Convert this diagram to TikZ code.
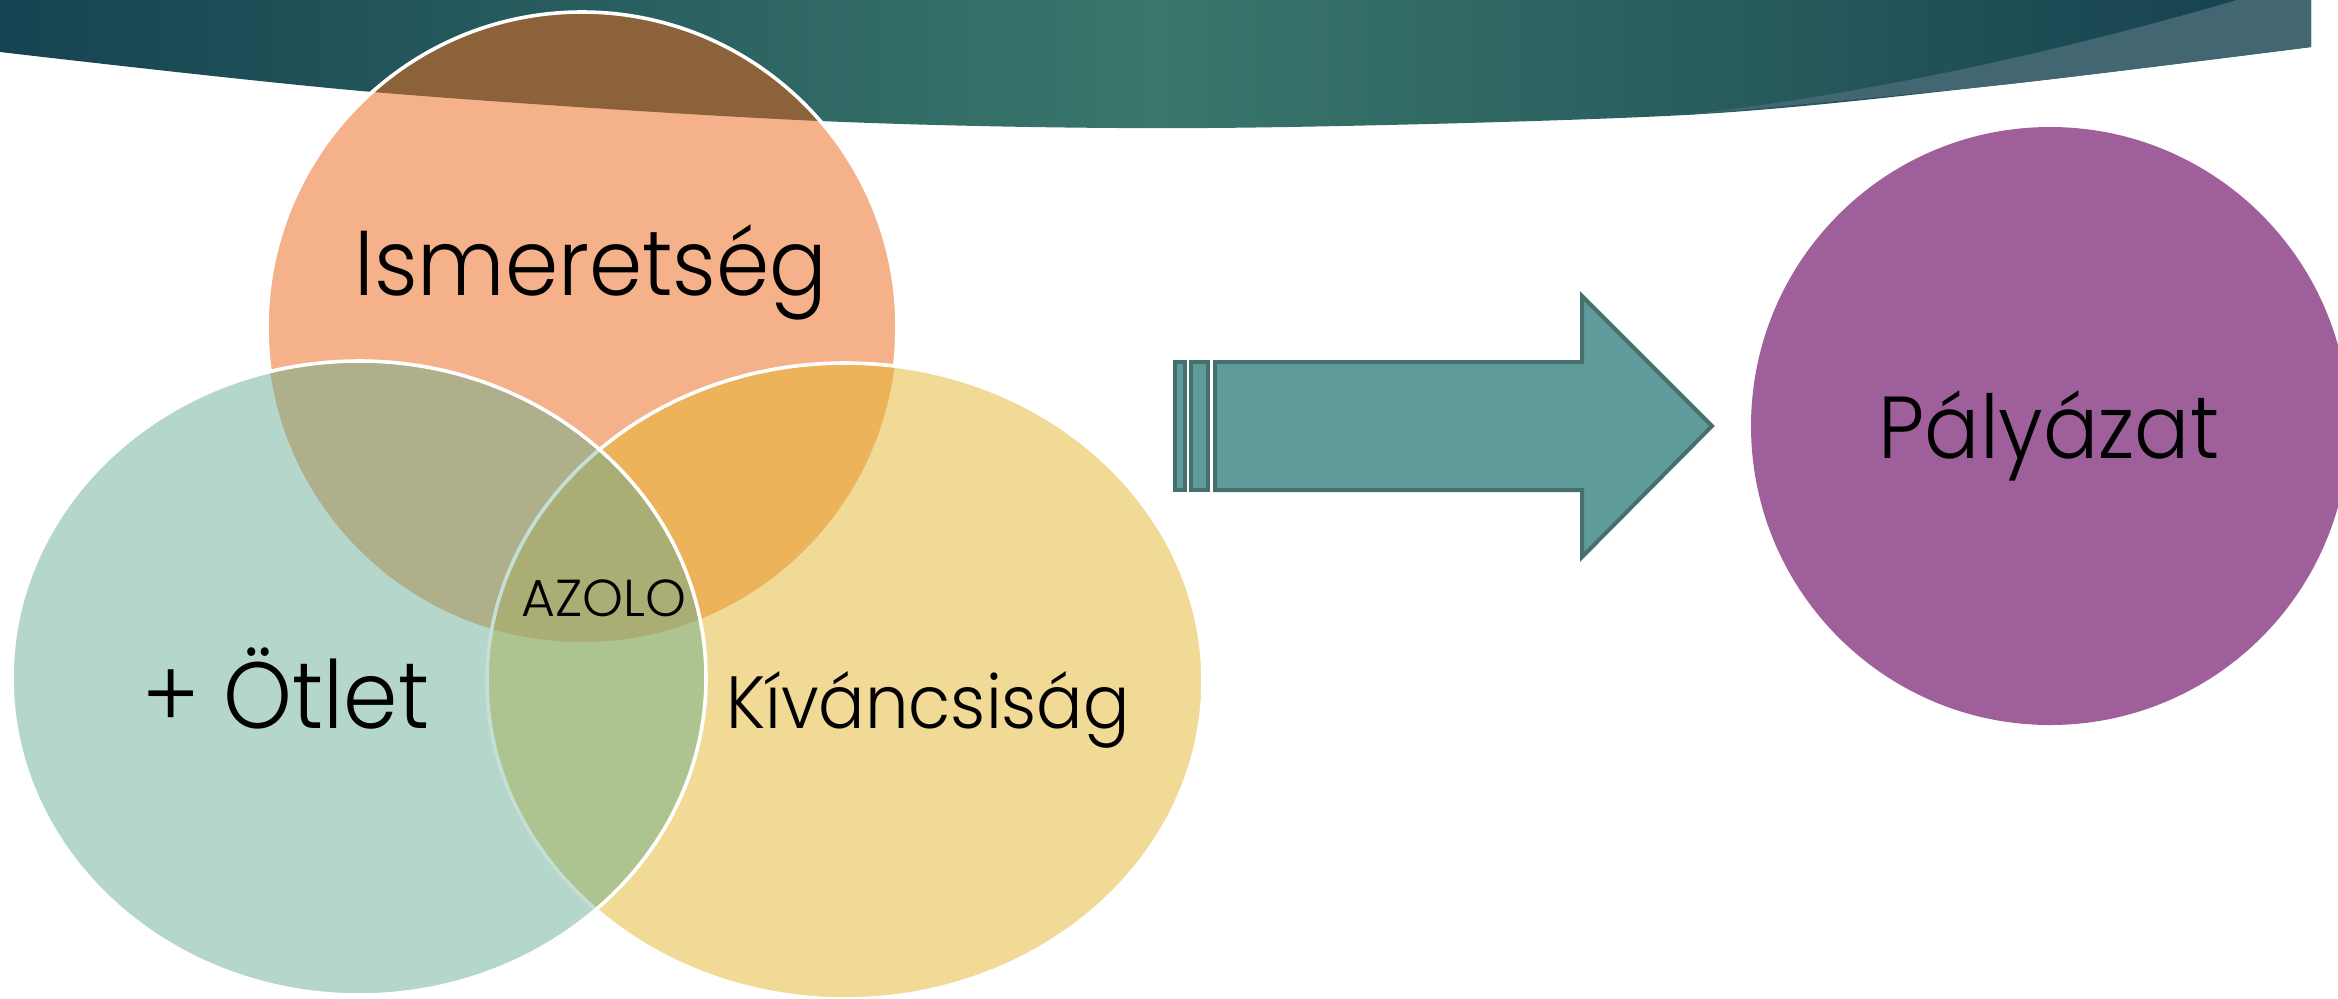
\documentclass[tikz,border=0pt]{standalone}
\usepackage{fontspec}
\setmainfont{Poppins}[UprightFont=* Light, FakeStretch=0.93]
\newfontfamily\azfont{Poppins}[UprightFont=* Light]
\definecolor{peach}{HTML}{F4B18A}
\definecolor{mint}{HTML}{B5D6CB}
\definecolor{sand}{HTML}{F1DA96}
\definecolor{peachmint}{HTML}{AFAF8C}
\definecolor{peachsand}{HTML}{ECB35A}
\definecolor{mintsand}{HTML}{ADC491}
\definecolor{allthree}{HTML}{AAAE74}
\definecolor{browncap}{HTML}{8B6239}
\definecolor{bannerdark}{HTML}{164351}
\definecolor{bannermid}{HTML}{3A776C}
\definecolor{bannerright}{HTML}{153F4E}
\definecolor{bannerlight}{HTML}{436772}
\definecolor{arrowfill}{HTML}{5F9B9B}
\definecolor{arrowline}{HTML}{46706E}
\definecolor{purple}{HTML}{9E5F9A}
\definecolor{hiddenline}{HTML}{C4DFD5}
\tikzset{
  bigtext/.style={font=\fontsize{46pt}{52pt}\selectfont, text=black, inner sep=0pt, anchor=base},
  midtext/.style={font=\fontsize{37pt}{42pt}\selectfont, text=black, inner sep=0pt, anchor=base},
  smalltext/.style={font=\azfont\fontsize{26pt}{30pt}\selectfont, text=black, inner sep=0pt, anchor=base},
  whiteline/.style={draw=white, line width=1.8pt},
  arrowpart/.style={fill=arrowfill, draw=arrowline, line width=2pt, line join=miter},
}
\begin{document}
\begin{tikzpicture}[x=0.5pt,y=-0.5pt]
\useasboundingbox (0,0) rectangle (2338,998);
\clip (0,0) rectangle (2338,998);
\def\bannerpath{(0,0) -- plot[smooth] coordinates {(0,52) (373,92) (820,121) (1208,128) (1685,115) (2000,85) (2311,47)} -- (2311,0) -- cycle}
\def\topcircle{(582,327) circle[radius=157.5pt]}
\def\leftell{(359,678) ellipse[x radius=173.5pt, y radius=158.5pt]}
\def\rightell{(845,681) ellipse[x radius=179pt, y radius=159pt]}
% banner
\shade[left color=bannerdark, right color=bannerright, middle color=bannermid, shading angle=90] \bannerpath;
\fill[bannerlight] (2237,0) .. controls (2100,40) and (1900,90) .. (1685,115) -- plot[smooth] coordinates {(1685,115) (2000,85) (2311,47)} -- (2311,0) -- cycle;
% top circle
\fill[peach] \topcircle;
\begin{scope}
  \clip \topcircle;
  \fill[browncap] \bannerpath;
\end{scope}
\draw[whiteline] \topcircle;
% right ellipse
\fill[sand] \rightell;
\begin{scope}
  \clip \rightell;
  \fill[peachsand] \topcircle;
\end{scope}
\draw[whiteline] \rightell;
% left ellipse
\fill[mint] \leftell;
\begin{scope}
  \clip \leftell;
  \fill[peachmint] \topcircle;
  \fill[mintsand] \rightell;
  \begin{scope}
    \clip \topcircle;
    \fill[allthree] \rightell;
  \end{scope}
  \draw[hiddenline, line width=1.8pt] \rightell;
\end{scope}
\draw[whiteline] \leftell;
% arrow
\draw[arrowpart] (1175,362) rectangle (1185,490);
\draw[arrowpart] (1191,362) rectangle (1208,490);
\draw[arrowpart] (1215,362) -- (1582,362) -- (1582,296) -- (1712,426) -- (1582,557) -- (1582,490) -- (1215,490) -- cycle;
% purple circle
\fill[purple] (2050,426) circle[radius=149.5pt];
% texts
\node[bigtext] (ismeret) at (591,295) {Ismeretség};
\node[bigtext, font=\fontsize{47pt}{52pt}\selectfont] (otlet) at (286,728) {+ Ötlet};
\node[midtext] (kivan) at (928,728) {Kíváncsiság};
\node[smalltext] (azolo) at (604,616) {AZOLO};
\node[bigtext, font=\fontsize{44pt}{50pt}\selectfont] (palyazat) at (2049,458) {Pályázat};
\end{tikzpicture}
\end{document}
